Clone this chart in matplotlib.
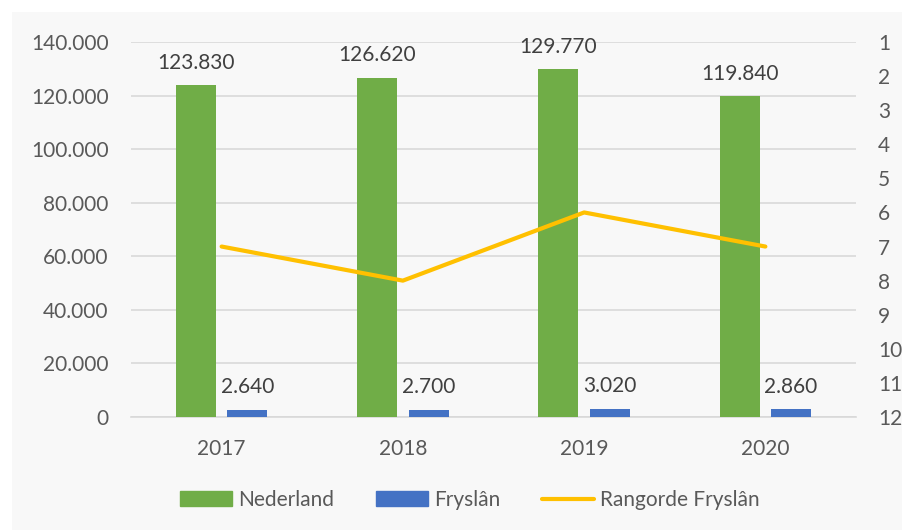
import matplotlib
matplotlib.use("Agg")
import matplotlib.pyplot as plt
import numpy as np
from matplotlib.patches import Rectangle
from matplotlib.ticker import FuncFormatter, FixedLocator
from matplotlib.lines import Line2D
from matplotlib.patches import Patch

years = ["2017", "2018", "2019", "2020"]
nederland = [123830, 126620, 129770, 119840]
fryslan = [2640, 2700, 3020, 2860]
rangorde = [7, 8, 6, 7]

green = "#70AD47"
blue = "#4472C4"
gold = "#FFC000"
txt = "#595959"
grid = "#D9D9D9"
FS = 15

plt.rcParams["font.family"] = ["Lato", "DejaVu Sans"]

def fmt(v):
    return f"{int(v):,}".replace(",", ".")

fig = plt.figure(figsize=(9.03, 5.30), dpi=100)
fig.patch.set_facecolor("white")
fig.patches.append(Rectangle((12/903, 0), 1, 1 - 12/530, transform=fig.transFigure,
                             facecolor="#F8F8F8", edgecolor="none", zorder=-10))

ax = fig.add_axes([131/903, 1 - 417/530, (856-131)/903, (417-42)/530])
ax.set_facecolor("none")
x = np.arange(len(years))
off = 0.142
w = 0.22
b1 = ax.bar(x - off, nederland, w, color=green, zorder=3)
b2 = ax.bar(x + off, fryslan, w, color=blue, zorder=3)
ax.set_xlim(-0.5, len(years) - 0.5)
ax.set_ylim(0, 140000)
ax.yaxis.set_major_locator(FixedLocator(np.arange(0, 140001, 20000)))
ax.yaxis.set_major_formatter(FuncFormatter(lambda v, p: fmt(v)))
ax.grid(axis="y", color=grid, linewidth=1.2, zorder=0)
ax.set_axisbelow(True)
for s in ["top", "left", "right"]:
    ax.spines[s].set_visible(False)
ax.spines["bottom"].set_color(grid)
ax.spines["bottom"].set_linewidth(1.2)
ax.set_xticks(x)
ax.set_xticklabels(years)
ax.tick_params(axis="both", length=0, labelsize=FS, colors=txt)
ax.tick_params(axis="x", pad=16)
ax.tick_params(axis="y", pad=16)

for bars, vals in [(b1, nederland), (b2, fryslan)]:
    for r, v in zip(bars, vals):
        ax.annotate(fmt(v), (r.get_x() + r.get_width()/2, v), xytext=(0, 9),
                    textcoords="offset points", ha="center", va="bottom",
                    fontsize=FS, color="#404040")

ax2 = ax.twinx()
ax2.plot(x, rangorde, color=gold, linewidth=3, zorder=4, solid_capstyle="round")
ax2.set_ylim(12, 1)
ax2.set_yticks(range(1, 13))
for s in ["top", "left", "right", "bottom"]:
    ax2.spines[s].set_visible(False)
ax2.tick_params(axis="y", length=0, labelsize=FS, colors=txt, pad=16)

handles = [Patch(color=green, label="Nederland"),
           Patch(color=blue, label="Fryslân"),
           Line2D([0], [0], color=gold, linewidth=3, label="Rangorde Fryslân",
                  solid_capstyle="round")]
fig.legend(handles=handles, loc="center", bbox_to_anchor=(470/903, 1 - 500/530),
           ncol=3, frameon=False, fontsize=FS, labelcolor=txt,
           handlelength=2.5, handleheight=0.7, columnspacing=2.0, handletextpad=0.3)

fig.savefig("out.png", dpi=100)
